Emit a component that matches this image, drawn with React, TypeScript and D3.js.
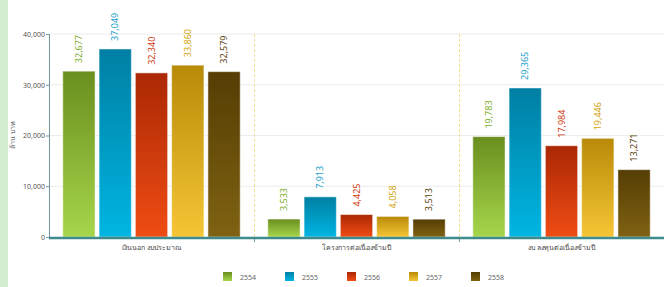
import React, { useRef, useEffect } from 'react';
import * as d3 from 'd3';

const categories = ['เงินนอก งบประมาณ', 'โครงการต่อเนื่องข้ามปี', 'งบ ลงทุนต่อเนื่องข้ามปี'];
const years = ['2554', '2555', '2556', '2557', '2558'];
const values2554 = [32677, 3533, 19783];
const values2555 = [37049, 7913, 29365];
const values2556 = [32340, 4425, 17984];
const values2557 = [33860, 4058, 19446];
const values2558 = [32579, 3513, 13271];
const yTicks = [0, 10000, 20000, 30000, 40000];

// [top, bottom, label]
const palette = [
  ['#6a8e1f', '#a6d64b', '#7fae2e'],
  ['#007fa3', '#00b5e2', '#1a9fcc'],
  ['#ab2804', '#f04c14', '#d03c12'],
  ['#b88a08', '#f6c535', '#d2a40e'],
  ['#553d04', '#7f6212', '#5c4510'],
];

const W = 664;
const H = 287;

const App: React.FC = () => {
  const svgRef = useRef<SVGSVGElement>(null);

  useEffect(() => {
    if (!svgRef.current) return;
    const svg = d3.select(svgRef.current);
    svg.selectAll('*').remove();

    const series = [values2554, values2555, values2556, values2557, values2558];
    const font = "'Noto Sans', 'DejaVu Sans', sans-serif";

    const left = 49;
    const right = 664;
    const top = 34;
    const bottom = 237;

    // left stripe
    svg.append('rect').attr('x', 0).attr('y', 0).attr('width', 8).attr('height', H).attr('fill', '#d3edd3');

    const x0 = d3.scaleBand().domain(categories).range([left, right]);
    const x1 = d3.scaleBand().domain(years).range([0, x0.bandwidth()]).paddingInner(0.11).paddingOuter(0.38);
    const y = d3.scaleLinear().domain([0, 40000]).range([bottom, top]);

    const defs = svg.append('defs');
    palette.forEach((p, i) => {
      const g = defs.append('linearGradient').attr('id', `bar-grad-${i}`).attr('x1', 0).attr('y1', 0).attr('x2', 0).attr('y2', 1);
      g.append('stop').attr('offset', '0%').attr('stop-color', p[0]);
      g.append('stop').attr('offset', '100%').attr('stop-color', p[1]);
    });

    // grid
    svg.append('g')
      .selectAll('line')
      .data(yTicks.slice(1))
      .enter()
      .append('line')
      .attr('x1', left)
      .attr('x2', right)
      .attr('y1', d => y(d))
      .attr('y2', d => y(d))
      .attr('stroke', '#ececec')
      .attr('stroke-width', 1);

    // dashed separators
    categories.slice(1).forEach(c => {
      const xx = Math.round(x0(c) || 0) + 0.5;
      svg.append('line')
        .attr('x1', xx).attr('x2', xx)
        .attr('y1', top).attr('y2', bottom)
        .attr('stroke', '#f3dc98')
        .attr('stroke-width', 1)
        .attr('stroke-dasharray', '3,2');
    });

    // y axis
    const yAxis = svg.append('g')
      .attr('transform', `translate(${left},0)`)
      .call(d3.axisLeft(y).tickValues(yTicks).tickSize(3).tickFormat(d => d3.format(',')(d as number)));
    yAxis.select('.domain').attr('stroke', '#6f97a6');
    yAxis.selectAll('.tick line').attr('stroke', '#6f97a6');
    yAxis.selectAll('.tick text').attr('font-size', 7).attr('fill', '#555').attr('font-family', font).attr('x', -4);

    svg.append('text')
      .attr('transform', `translate(15,135) rotate(-90)`)
      .attr('text-anchor', 'middle')
      .attr('font-size', 7)
      .attr('fill', '#666')
      .attr('font-family', font)
      .text('ล้าน บาท');

    // bars
    series.forEach((vals, si) => {
      const g = svg.append('g');
      g.selectAll('rect')
        .data(vals)
        .enter()
        .append('rect')
        .attr('x', (d, i) => (x0(categories[i]) || 0) + (x1(years[si]) || 0))
        .attr('y', d => y(d))
        .attr('width', x1.bandwidth())
        .attr('height', d => bottom - y(d))
        .attr('fill', `url(#bar-grad-${si})`)
        .attr('stroke', 'rgba(255,255,255,0.5)')
        .attr('stroke-width', 1);

      g.selectAll('text')
        .data(vals)
        .enter()
        .append('text')
        .attr('transform', (d, i) => {
          const cx = (x0(categories[i]) || 0) + (x1(years[si]) || 0) + x1.bandwidth() / 2 + 3;
          return `translate(${cx},${y(d) - 8}) rotate(-90)`;
        })
        .attr('font-size', 9)
        .attr('font-family', font)
        .attr('fill', palette[si][2])
        .text(d => d3.format(',')(d));
    });

    // x axis
    svg.append('line')
      .attr('x1', left).attr('x2', right)
      .attr('y1', bottom + 1).attr('y2', bottom + 1)
      .attr('stroke', '#3f8a8c')
      .attr('stroke-width', 2.5);
    categories.forEach(c => {
      const xx = Math.round(x0(c) || 0) + 0.5;
      if (xx > left + 1) {
        svg.append('line').attr('x1', xx).attr('x2', xx).attr('y1', bottom + 2).attr('y2', bottom + 5).attr('stroke', '#6f97a6');
      }
      svg.append('text')
        .attr('x', (x0(c) || 0) + x0.bandwidth() / 2)
        .attr('y', bottom + 13)
        .attr('text-anchor', 'middle')
        .attr('font-size', 7)
        .attr('fill', '#444')
        .attr('font-family', font)
        .text(c);
    });

    // legend
    const legend = svg.append('g').attr('transform', 'translate(223,272)');
    years.forEach((yr, i) => {
      const lg = legend.append('g').attr('transform', `translate(${i * 62},0)`);
      lg.append('rect').attr('width', 9).attr('height', 9).attr('fill', `url(#bar-grad-${i})`);
      lg.append('text')
        .attr('x', 17)
        .attr('y', 8)
        .attr('font-size', 7)
        .attr('fill', '#666')
        .attr('font-family', font)
        .text(yr);
    });
  }, []);

  return (
    <svg
      ref={svgRef}
      width={W}
      height={H}
      style={{ position: 'absolute', left: 0, top: 0, display: 'block', background: '#fff' }}
    />
  );
};

export default App;
